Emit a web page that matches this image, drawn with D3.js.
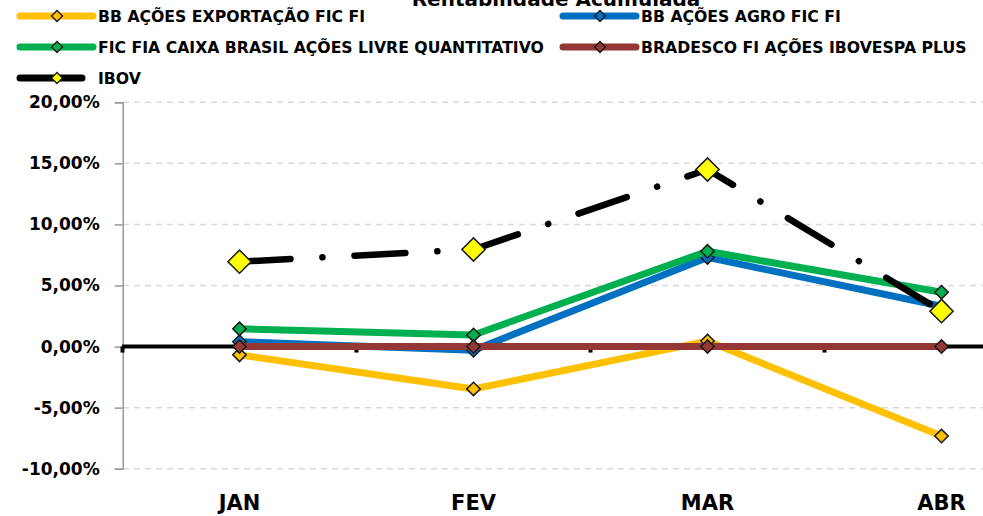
<!DOCTYPE html>
<html>
<head>
<meta charset="utf-8">
<script src="https://cdn.jsdelivr.net/npm/d3@7"></script>
<style>
    body { margin: 0; background: #fff; }
    #chart { width: 983px; height: 516px; overflow: hidden; }
    text { font-family: "DejaVu Sans", sans-serif; font-weight: bold; fill: #000; }
</style>
</head>
<body>
<div id="chart"></div>
<script>
// categories and series (accumulated return, fraction)
const months = ["JAN", "FEV", "MAR", "ABR"];
const bbExportacao = [-0.0068, -0.0347, 0.0045, -0.0733];
const bbAgro = [0.0040, -0.0030, 0.0730, 0.0330];
const caixaLivre = [0.0145, 0.0095, 0.0780, 0.0445];
const bradescoPlus = [0.0, 0.0, 0.0, 0.0];
const ibov = [0.0695, 0.0795, 0.1450, 0.0290];
const yTicks = [-0.10, -0.05, 0.0, 0.05, 0.10, 0.15, 0.20];

const series = [
    {name: "BB AÇÕES EXPORTAÇÃO FIC FI", values: bbExportacao, color: "#FFC000", marker: "#FFC000"},
    {name: "BB AÇÕES AGRO FIC FI", values: bbAgro, color: "#0070C0", marker: "#0070C0"},
    {name: "FIC FIA CAIXA BRASIL AÇÕES LIVRE QUANTITATIVO", values: caixaLivre, color: "#00B050", marker: "#00B050"},
    {name: "BRADESCO FI AÇÕES IBOVESPA PLUS", values: bradescoPlus, color: "#953735", marker: "#953735"},
    {name: "IBOV", values: ibov, color: "#000000", marker: "#FFFF00", ibov: true}
];

const width = 983, height = 516;
const svg = d3.select("#chart").append("svg")
    .attr("width", width)
    .attr("height", height);

const ptBR = d3.formatLocale({decimal: ",", thousands: ".", grouping: [3], currency: ["R$", ""], minus: "-"});
const pct = ptBR.format(".2%");

// plot runs past the right edge of the picture, like the original
const x = d3.scaleBand().domain(months).range([122.5, 1058.5]).padding(0);
const y = d3.scaleLinear().domain([-0.10, 0.20]).range([468.7, 102.3]);
const cx = d => x(d) + x.bandwidth() / 2;

// title (cut at the top in the original)
svg.append("text")
    .attr("x", 556).attr("y", 6)
    .attr("text-anchor", "middle")
    .style("font-size", "20px")
    .text("Rentabilidade Acumulada");

// grid
svg.append("g").selectAll("line")
    .data(yTicks.filter(t => t !== 0))
    .enter().append("line")
    .attr("x1", 123).attr("x2", width)
    .attr("y1", d => y(d)).attr("y2", d => y(d))
    .attr("stroke", "#D9D9D9")
    .attr("stroke-width", 1.5)
    .attr("stroke-dasharray", "6,5");

// y axis
const yAxis = svg.append("g")
    .attr("transform", "translate(122.7,0)")
    .call(d3.axisLeft(y).tickValues(yTicks).tickFormat(pct).tickSize(8).tickPadding(15));
yAxis.select(".domain").attr("stroke", "#999").attr("stroke-width", 1.5);
yAxis.selectAll(".tick line").attr("stroke", "#999").attr("stroke-width", 1.5);
yAxis.selectAll("text").style("font-size", "17px").style("font-family", "'DejaVu Sans', sans-serif");

// category axis at zero
svg.append("line")
    .attr("x1", 122).attr("x2", width)
    .attr("y1", y(0)).attr("y2", y(0))
    .attr("stroke", "#000").attr("stroke-width", 4);
svg.append("g").selectAll("rect")
    .data(months)
    .enter().append("rect")
    .attr("x", d => x(d) - 2)
    .attr("y", y(0))
    .attr("width", 4).attr("height", 6)
    .attr("fill", "#000");

// month labels at the bottom
const xAxis = svg.append("g")
    .attr("transform", "translate(0,510)")
    .call(d3.axisBottom(x).tickSize(0).tickPadding(0));
xAxis.select(".domain").remove();
xAxis.selectAll("text").attr("dy", "0").style("font-size", "21px").style("font-family", "'DejaVu Sans', sans-serif");

const line = d3.line().x((d, i) => cx(months[i])).y(d => y(d));
const diamond = (s) => d3.symbol().type(d3.symbolSquare).size(s)();

series.forEach(s => {
    const g = svg.append("g");
    g.append("path")
        .datum(s.values)
        .attr("d", line)
        .attr("fill", "none")
        .attr("stroke", s.color)
        .attr("stroke-width", s.ibov ? 6.5 : 7)
        .attr("stroke-linecap", "round")
        .attr("stroke-linejoin", "round")
        .attr("stroke-dasharray", s.ibov ? "51,32,0.1,32" : null);
    g.selectAll("path.m")
        .data(s.values)
        .enter().append("path")
        .attr("class", "m")
        .attr("d", diamond(s.ibov ? 270 : 90))
        .attr("transform", (d, i) => `translate(${cx(months[i])},${y(d)}) rotate(45)`)
        .attr("fill", s.marker)
        .attr("stroke", "#1a1a1a")
        .attr("stroke-width", 1.5);
});

// legend
const legendPos = [
    {x: 20, y: 16}, {x: 563, y: 16},
    {x: 20, y: 47}, {x: 563, y: 47},
    {x: 20, y: 78}
];
series.forEach((s, i) => {
    const p = legendPos[i];
    const len = s.ibov ? 62 : 73;
    const lg = svg.append("g").attr("transform", `translate(${p.x},${p.y})`);
    lg.append("line")
        .attr("x1", 0).attr("x2", len)
        .attr("stroke", s.color)
        .attr("stroke-width", 7)
        .attr("stroke-linecap", "round");
    lg.append("path")
        .attr("d", diamond(60))
        .attr("transform", "translate(37,0) rotate(45)")
        .attr("fill", s.ibov ? "#FFFF00" : s.color)
        .attr("stroke", "#1a1a1a")
        .attr("stroke-width", 1.3);
    lg.append("text")
        .attr("x", 78)
        .attr("dy", "0.36em")
        .style("font-size", "15.7px")
        .text(s.name);
});
</script>
</body>
</html>
